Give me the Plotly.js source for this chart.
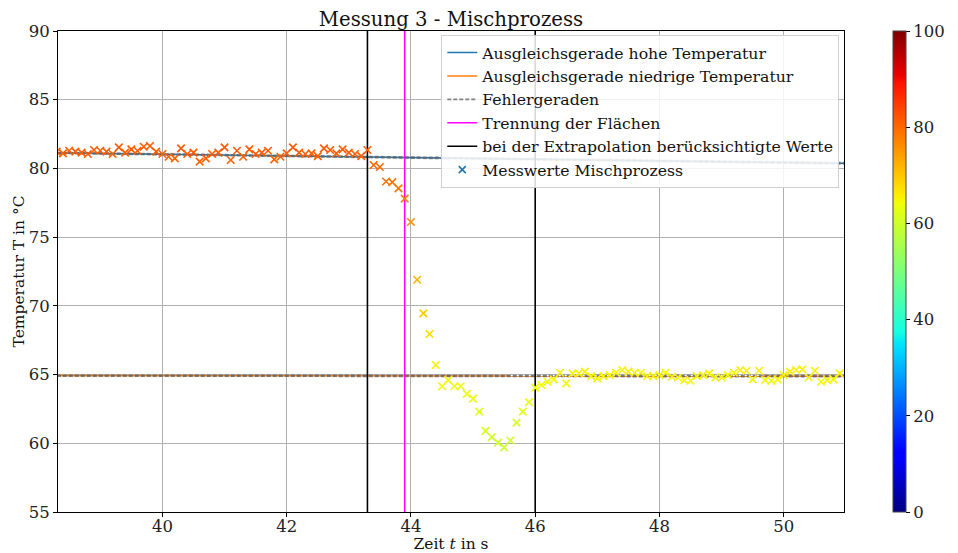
<!DOCTYPE html>
<html>
<head>
<meta charset="utf-8">
<script src="https://cdn.plot.ly/plotly-3.0.1.min.js"></script>
<style>html,body{margin:0;padding:0;background:#fff;}#chart{width:958px;height:553px;}</style>
</head>
<body>
<div id="chart"></div>
<script>
// measurement times (s)
const time = [
  38.3,38.4,38.5,38.6,38.7,38.8,38.9,39.0,39.1,39.2,39.3,39.4,39.5,39.6,39.7,39.8,39.9,
  40.0,40.1,40.2,40.3,40.4,40.5,40.6,40.7,40.8,40.9,41.0,41.1,41.2,41.3,41.4,41.5,41.6,41.7,41.8,41.9,
  42.0,42.1,42.2,42.3,42.4,42.5,42.6,42.7,42.8,42.9,43.0,43.1,43.2,43.3,43.4,43.5,43.6,43.7,43.8,43.9,
  44.0,44.1,44.2,44.3,44.4,44.5,44.6,44.7,44.8,44.9,45.0,45.1,45.2,45.3,45.4,45.5,45.6,45.7,45.8,45.9,
  46.0,46.1,46.2,46.3,46.4,46.5,46.6,46.7,46.8,46.9,47.0,47.1,47.2,47.3,47.4,47.5,47.6,47.7,47.8,47.9,
  48.0,48.1,48.2,48.3,48.4,48.5,48.6,48.7,48.8,48.9,49.0,49.1,49.2,49.3,49.4,49.5,49.6,49.7,49.8,49.9,
  50.0,50.1,50.2,50.3,50.4,50.5,50.6,50.7,50.8,50.9
];
// measured temperatures (°C)
const temperature = [
  81.22,81.10,81.29,81.22,81.15,81.05,81.34,81.29,81.22,81.05,81.53,81.15,81.39,81.29,81.58,81.63,81.22,
  81.05,80.85,80.73,81.46,81.05,81.15,80.49,80.73,81.05,81.15,81.53,80.61,81.29,80.85,81.39,81.05,81.15,81.29,80.66,80.85,
  81.10,81.53,81.15,81.05,81.10,80.90,81.46,81.34,81.10,81.39,81.15,81.05,80.90,81.34,80.25,80.10,79.05,79.00,78.55,77.80,
  76.10,71.90,69.45,67.95,65.70,64.15,64.60,64.15,64.15,63.60,63.25,62.30,60.90,60.45,60.05,59.70,60.20,61.50,62.30,63.00,
  64.05,64.24,64.48,64.65,65.13,64.36,65.09,65.09,65.21,64.89,64.72,64.89,64.96,65.13,65.33,65.21,65.13,65.13,64.89,64.89,
  64.96,65.13,64.84,64.79,64.60,64.55,64.89,64.96,65.09,64.79,64.79,64.96,65.13,65.33,65.28,64.65,65.28,64.60,64.55,64.65,
  64.96,65.21,65.33,65.38,64.79,65.28,64.48,64.60,64.65,65.09
];
// fit lines (endpoints)
const fitX = [38.3, 51.0];
const fitHighY = [81.13, 80.37];
const fitLowY = [64.92, 64.88];
const errHighUpperY = [81.16, 80.42];
const errHighLowerY = [81.10, 80.32];
const errLowUpperY = [64.95, 64.92];
const errLowLowerY = [64.89, 64.84];
// vertical markers
const vlineYSpan = [55, 90];
const separationX = 43.9;
const extrapolationX = [43.3, 46.0];
const xTicks = [40, 42, 44, 46, 48, 50];
const yTicks = [55, 60, 65, 70, 75, 80, 85, 90];
const cbTicks = [0, 20, 40, 60, 80, 100];

const jet = [
  [0, 'rgb(0,0,128)'], [0.11, 'rgb(0,0,255)'], [0.125, 'rgb(0,0,255)'],
  [0.34, 'rgb(0,219,255)'], [0.35, 'rgb(0,229,247)'], [0.375, 'rgb(21,255,226)'],
  [0.64, 'rgb(239,255,8)'], [0.65, 'rgb(247,245,0)'], [0.66, 'rgb(255,236,0)'],
  [0.89, 'rgb(255,19,0)'], [0.91, 'rgb(232,0,0)'], [1, 'rgb(128,0,0)']
];

const FONT = 'DejaVu Serif, serif';
const traces = [
  {x: fitX, y: fitHighY, mode: 'lines', line: {color: '#1f77b4', width: 1.6}, name: 'Ausgleichsgerade hohe Temperatur'},
  {x: fitX, y: fitLowY, mode: 'lines', line: {color: '#ff7f0e', width: 1.6}, name: 'Ausgleichsgerade niedrige Temperatur'},
  {x: fitX, y: errHighUpperY, mode: 'lines', line: {color: 'rgba(100,100,100,0.8)', width: 1.6, dash: '4px,2px'}, name: 'Fehlergeraden', legendgroup: 'err'},
  {x: fitX, y: errHighLowerY, mode: 'lines', line: {color: 'rgba(100,100,100,0.8)', width: 1.6, dash: '4px,2px'}, showlegend: false, legendgroup: 'err'},
  {x: fitX, y: errLowUpperY, mode: 'lines', line: {color: 'rgba(100,100,100,0.8)', width: 1.6, dash: '4px,2px'}, showlegend: false, legendgroup: 'err'},
  {x: fitX, y: errLowLowerY, mode: 'lines', line: {color: 'rgba(100,100,100,0.8)', width: 1.6, dash: '4px,2px'}, showlegend: false, legendgroup: 'err'},
  {x: [separationX, separationX], y: vlineYSpan, mode: 'lines', line: {color: '#ff00ff', width: 1.6}, name: 'Trennung der Flächen'},
  {x: [extrapolationX[0], extrapolationX[0]], y: vlineYSpan, mode: 'lines', line: {color: '#000', width: 1.6}, name: 'bei der Extrapolation berücksichtigte Werte', legendgroup: 'ext'},
  {x: [extrapolationX[1], extrapolationX[1]], y: vlineYSpan, mode: 'lines', line: {color: '#000', width: 1.6}, showlegend: false, legendgroup: 'ext'},
  {x: [null], y: [null], mode: 'markers', marker: {symbol: 'x-thin-open', size: 7, color: '#1f77b4', line: {width: 1.6}}, name: 'Messwerte Mischprozess'},
  {x: time, y: temperature, mode: 'markers', showlegend: false, hoverinfo: 'x+y',
   marker: {symbol: 'x-thin-open', size: 7.5, color: temperature, cmin: 0, cmax: 100, colorscale: jet,
     line: {width: 1.6},
     showscale: true,
     colorbar: {x: 1.062, xanchor: 'left', xref: 'paper', y: 0.5, yanchor: 'middle', len: 1, lenmode: 'fraction',
       thickness: 13, thicknessmode: 'pixels', outlinewidth: 1, outlinecolor: '#444',
       tickvals: cbTicks, ticks: 'outside', ticklen: 4, tickcolor: '#000',
       tickfont: {family: FONT, size: 16.5, color: '#222'}, xpad: 0, ypad: 0}}}
];

const axisCommon = {
  showline: true, linecolor: '#000', linewidth: 1, mirror: true,
  showgrid: true, gridcolor: '#b0b0b0', gridwidth: 1,
  ticks: 'outside', ticklen: 4, tickcolor: '#000',
  tickfont: {family: FONT, size: 16.5, color: '#222'}, zeroline: false
};

const layout = {
  width: 958, height: 553,
  margin: {l: 58, r: 112, t: 31, b: 41},
  paper_bgcolor: '#fff', plot_bgcolor: '#fff',
  font: {family: FONT, color: '#222'},
  title: {text: 'Messung 3 - Mischprozess', font: {family: FONT, size: 19.7, color: '#111'},
    x: 0.5, xref: 'paper', xanchor: 'center', y: 1, yref: 'paper', yanchor: 'bottom', pad: {b: 5}},
  xaxis: Object.assign({}, axisCommon, {range: [38.32, 50.97], tickvals: xTicks, ticklabelstandoff: -5,
    title: {text: 'Zeit <i>t</i> in s', font: {family: FONT, size: 15.5, color: '#111'}, standoff: 3}}),
  yaxis: Object.assign({}, axisCommon, {range: [55, 90], tickvals: yTicks,
    title: {text: 'Temperatur T in °C', font: {family: FONT, size: 15.5, color: '#111'}, standoff: 0}}),
  showlegend: true,
  legend: {x: 0.994, xanchor: 'right', y: 0.992, yanchor: 'top',
    bgcolor: 'rgba(255,255,255,0.85)', bordercolor: '#d0d0d0', borderwidth: 1,
    font: {family: FONT, size: 15.7, color: '#111'}, itemwidth: 30, tracegroupgap: 0, traceorder: 'normal'}
};

Plotly.newPlot('chart', traces, layout, {displayModeBar: false, staticPlot: true});
</script>
</body>
</html>
